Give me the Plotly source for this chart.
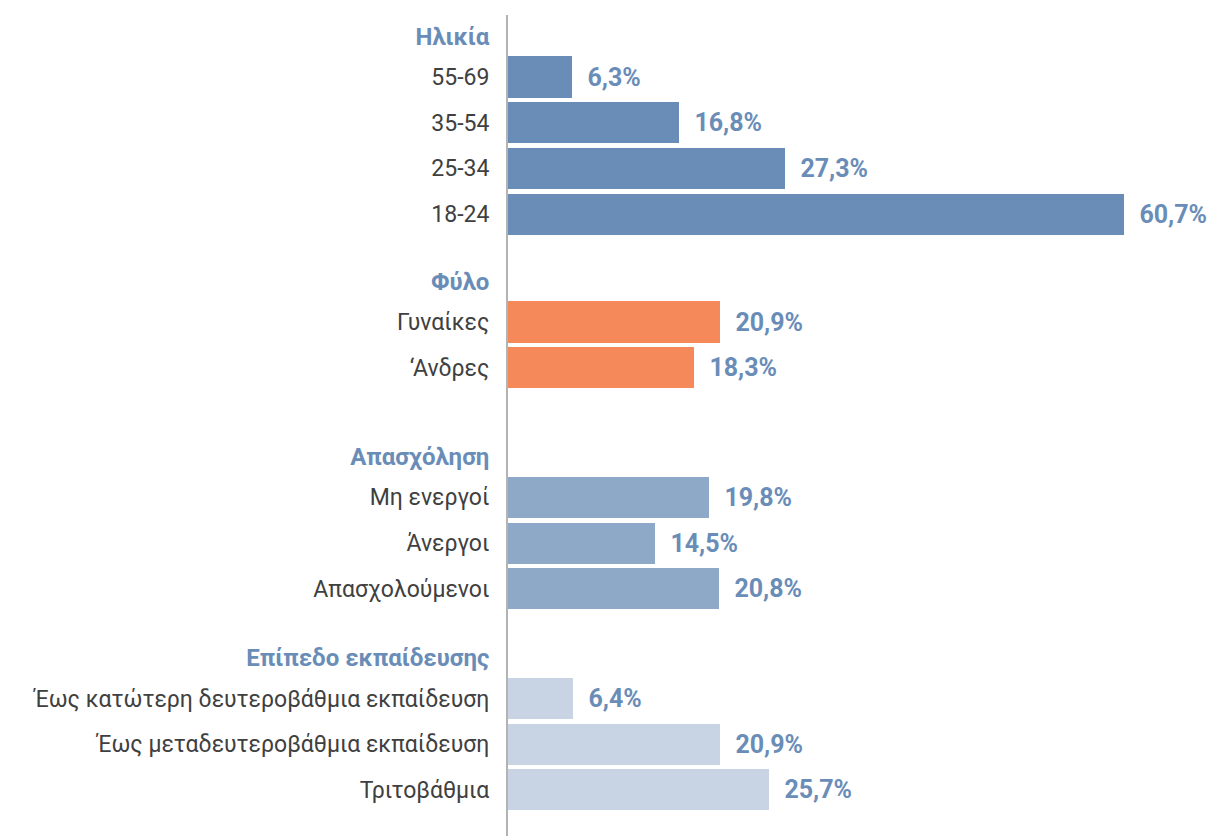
import plotly.graph_objects as go

# group titles and categories, top to bottom
groups = ["Ηλικία", "Φύλο", "Απασχόληση", "Επίπεδο εκπαίδευσης"]
age_labels = ["55-69", "35-54", "25-34", "18-24"]
age_values = [6.3, 16.8, 27.3, 60.7]
sex_labels = ["Γυναίκες", "‘Ανδρες"]
sex_values = [20.9, 18.3]
work_labels = ["Μη ενεργοί", "Άνεργοι", "Απασχολούμενοι"]
work_values = [19.8, 14.5, 20.8]
edu_labels = ["Έως κατώτερη δευτεροβάθμια εκπαίδευση",
              "Έως μεταδευτεροβάθμια εκπαίδευση",
              "Τριτοβάθμια"]
edu_values = [6.4, 20.9, 25.7]

# layout of the rows (in row units)
bar_colors = ["#6a8db8", "#f5895a", "#8ea8c8", "#c8d3e4"]
group_gap = [0, 2.36, 2.84, 2.4]
title_offset = 0.88

series = [(age_labels, age_values), (sex_labels, sex_values),
          (work_labels, work_values), (edu_labels, edu_values)]

fig = go.Figure()
tickvals, ticktext = [], []
pos = 0.0
for i, (labels, values) in enumerate(series):
    pos += group_gap[i]
    ys = [pos + k for k in range(len(labels))]
    tickvals.append(ys[0] - title_offset)
    ticktext.append("<b><span style='color:#6a8db8;font-size:24px'>" + groups[i] + "</span></b>")
    tickvals += ys
    ticktext += labels
    fig.add_trace(go.Bar(
        x=values, y=ys, orientation="h", width=0.9,
        marker=dict(color=bar_colors[i], line=dict(width=0)),
        texttemplate="&nbsp;&nbsp;<b>%{x:.1f}%</b>", textposition="outside",
        textfont=dict(color="#6a8db8", size=25, family="Roboto"),
        cliponaxis=False, showlegend=False, hoverinfo="skip"))
    pos = ys[-1]

fig.update_layout(
    width=1218, height=836,
    margin=dict(l=500, r=8, t=7, b=8, autoexpand=False),
    paper_bgcolor="white", plot_bgcolor="white",
    separators=",.",
    font=dict(family="Roboto", size=23, color="#404040"),
    bargap=0,
)
fig.update_xaxes(range=[0, 69.95], visible=False, showgrid=False, zeroline=False)
fig.update_yaxes(range=[16.61, -1.357], tickvals=tickvals, ticktext=ticktext,
                 showgrid=False, zeroline=False, showline=True,
                 linecolor="#b3b3b3", linewidth=2, ticks="", automargin=False,
                 ticklabelstandoff=12, tickfont=dict(size=23, color="#404040"))

fig.write_html("out.html")
